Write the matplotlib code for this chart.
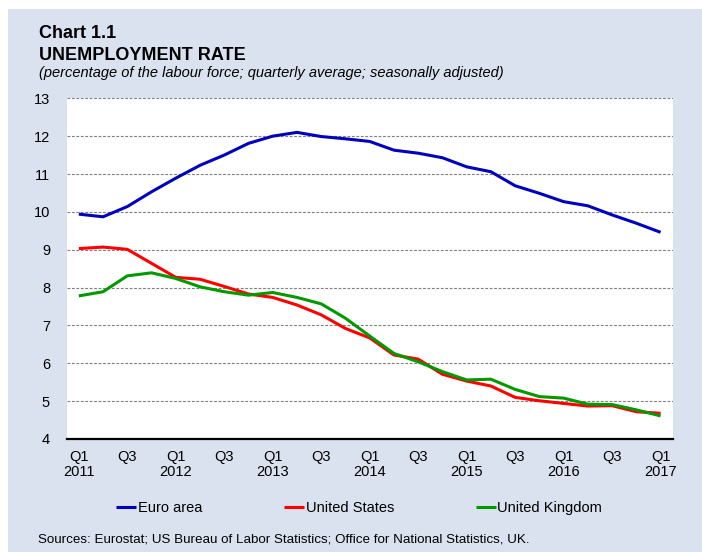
import matplotlib
matplotlib.use("Agg")
import matplotlib.pyplot as plt
from matplotlib.patches import Rectangle
import numpy as np

plt.rcParams['font.family'] = ['Liberation Sans', 'DejaVu Sans']

# trimestres Q1 2011 .. Q1 2017
quarters = ['Q1\n2011', '', 'Q3', '', 'Q1\n2012', '', 'Q3', '', 'Q1\n2013', '', 'Q3', '',
            'Q1\n2014', '', 'Q3', '', 'Q1\n2015', '', 'Q3', '', 'Q1\n2016', '', 'Q3', '', 'Q1\n2017']

euro_area = [9.94, 9.87, 10.14, 10.53, 10.89, 11.23, 11.50, 11.81, 12.00, 12.10, 11.99, 11.93,
             11.86, 11.63, 11.55, 11.43, 11.19, 11.06, 10.69, 10.49, 10.27, 10.16, 9.92, 9.70, 9.46]
united_states = [9.03, 9.07, 9.01, 8.64, 8.27, 8.22, 8.03, 7.83, 7.74, 7.54, 7.28, 6.92,
                 6.67, 6.22, 6.11, 5.71, 5.53, 5.40, 5.10, 5.01, 4.94, 4.87, 4.88, 4.72, 4.68]
united_kingdom = [7.78, 7.89, 8.31, 8.39, 8.24, 8.02, 7.89, 7.80, 7.87, 7.74, 7.57, 7.19,
                  6.72, 6.26, 6.04, 5.78, 5.56, 5.58, 5.31, 5.12, 5.08, 4.92, 4.91, 4.77, 4.61]

bg = '#dbe2ef'

fig = plt.figure(figsize=(7.02, 5.52), dpi=100)
fig.patch.set_facecolor('white')
fig.patches.append(Rectangle((8 / 702, 0), 1 - 8 / 702, 1 - 9 / 552,
                             transform=fig.transFigure, facecolor=bg, edgecolor='none', zorder=-1))

# titulos
fig.text(39 / 702, 1 - 38.3 / 552, 'Chart 1.1', fontsize=13, fontweight='bold', va='baseline')
fig.text(39 / 702, 1 - 59.5 / 552, 'UNEMPLOYMENT RATE', fontsize=13, fontweight='bold', va='baseline')
fig.text(39 / 702, 1 - 77 / 552, '(percentage of the labour force; quarterly average; seasonally adjusted)',
         fontsize=10.5, style='italic', va='baseline')

ax = fig.add_axes([66.7 / 702, 1 - 439 / 552, (672.7 - 66.7) / 702, (439 - 98.3) / 552])
ax.set_facecolor('white')

x = np.arange(len(quarters))
ax.plot(x, euro_area, color='#0000bf', lw=2.2, label='Euro area', solid_capstyle='butt')
ax.plot(x, united_states, color='#ff0000', lw=2.2, label='United States', solid_capstyle='butt')
ax.plot(x, united_kingdom, color='#009a00', lw=2.2, label='United Kingdom', solid_capstyle='butt')

ax.set_xlim(-0.5, len(quarters) - 0.5)
ax.set_ylim(4, 13)
ax.set_yticks(range(4, 14))
ax.set_xticks(x)
ax.set_xticklabels(quarters, fontsize=10.5, linespacing=1.05)
ax.tick_params(axis='y', labelsize=10.5, length=0, pad=12)
ax.tick_params(axis='x', length=0, pad=8)
ax.grid(axis='y', color='#7f7f7f', linestyle=(0, (2.5, 1.5)), lw=0.8)
for s in ['top', 'left', 'right']:
    ax.spines[s].set_visible(False)
ax.spines['bottom'].set_color('black')
ax.spines['bottom'].set_linewidth(1.6)
ax.spines['bottom'].set_zorder(5)

handles, labels = ax.get_legend_handles_labels()
fig.legend(handles, labels, loc='center', bbox_to_anchor=(359 / 702, 1 - 508 / 552), ncol=3,
           frameon=False, fontsize=10.5, handlelength=1.4, handletextpad=0.1, columnspacing=5.6)

fig.text(38 / 702, 1 - 540 / 552, 'Sources: Eurostat; US Bureau of Labor Statistics; Office for National Statistics, UK.',
         fontsize=9.6, va='center')

fig.savefig('out.png', dpi=100, facecolor=fig.get_facecolor())
